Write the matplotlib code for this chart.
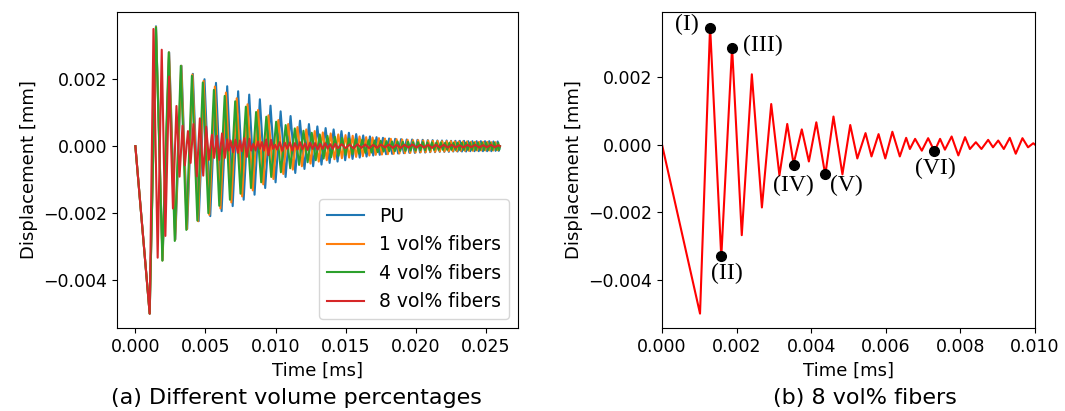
import numpy as np
import matplotlib
matplotlib.use("Agg")
import matplotlib.pyplot as plt

# all runs start at rest and dip to the same minimum
start_t = [0.0, 0.00102]
start_v = [0.0, -0.00500]

# PU: times of the maxima, value of each maximum and of the minimum after it
pu_peak_t = [0.00147, 0.00241, 0.00329, 0.00410, 0.00493, 0.00575, 0.00655, 0.00733, 0.00812, 0.00888,
             0.00964, 0.01036, 0.01107, 0.01174, 0.01238, 0.01298, 0.01357, 0.01414, 0.01470, 0.01523,
             0.01575, 0.01625, 0.01673, 0.01720, 0.01766, 0.01810, 0.01853, 0.01895, 0.01935, 0.01974,
             0.02012, 0.02049, 0.02085, 0.02120, 0.02154, 0.02187, 0.02220, 0.02252, 0.02283, 0.02314,
             0.02344, 0.02374, 0.02404, 0.02434, 0.02464, 0.02494, 0.02524, 0.02554, 0.02584]
pu_peak_v = [0.00358, 0.00280, 0.00240, 0.00216, 0.00200, 0.00189, 0.00179, 0.00164, 0.00154, 0.00140,
             0.00121, 0.00104, 0.00090, 0.00076, 0.00066, 0.00059, 0.00054, 0.00050, 0.00045, 0.00040,
             0.00036, 0.00032, 0.00029, 0.00027, 0.00025, 0.00023, 0.00022, 0.00021, 0.00020, 0.00020,
             0.00019, 0.00019, 0.00018, 0.00018, 0.00017, 0.00017, 0.00017, 0.00016, 0.00016, 0.00016,
             0.00016, 0.00015, 0.00015, 0.00015, 0.00015, 0.00015, 0.00015, 0.00014, 0.00014]
pu_trough_v = [-0.00340, -0.00278, -0.00247, -0.00224, -0.00209, -0.00194, -0.00179, -0.00160, -0.00145, -0.00125,
               -0.00108, -0.00092, -0.00080, -0.00068, -0.00060, -0.00055, -0.00050, -0.00046, -0.00042, -0.00038,
               -0.00034, -0.00031, -0.00028, -0.00026, -0.00024, -0.00023, -0.00022, -0.00021, -0.00020, -0.00020,
               -0.00019, -0.00019, -0.00018, -0.00018, -0.00017, -0.00017, -0.00017, -0.00016, -0.00016, -0.00016,
               -0.00016, -0.00015, -0.00015, -0.00015, -0.00015, -0.00015, -0.00015, -0.00014, -0.00014]

# 1 vol% fibers
f1_peak_t = [0.00147, 0.00240, 0.00327, 0.00407, 0.00487, 0.00567, 0.00646, 0.00723, 0.00800, 0.00875,
             0.00949, 0.01020, 0.01090, 0.01156, 0.01219, 0.01279, 0.01337, 0.01393, 0.01447, 0.01499,
             0.01550, 0.01599, 0.01646, 0.01692, 0.01737, 0.01780, 0.01822, 0.01863, 0.01903, 0.01942,
             0.01980, 0.02017, 0.02053, 0.02088, 0.02122, 0.02155, 0.02188, 0.02220, 0.02250, 0.02277,
             0.02306, 0.02335, 0.02364, 0.02393, 0.02422, 0.02451, 0.02480, 0.02509, 0.02538, 0.02567]
f1_peak_v = [0.00356, 0.00280, 0.00240, 0.00214, 0.00195, 0.00178, 0.00160, 0.00143, 0.00125, 0.00108,
             0.00092, 0.00078, 0.00066, 0.00057, 0.00050, 0.00045, 0.00041, 0.00038, 0.00035, 0.00033,
             0.00031, 0.00029, 0.00027, 0.00026, 0.00024, 0.00023, 0.00022, 0.00021, 0.00020, 0.00019,
             0.00018, 0.00018, 0.00017, 0.00017, 0.00016, 0.00016, 0.00015, 0.00015, 0.00015, 0.00014,
             0.00014, 0.00014, 0.00014, 0.00013, 0.00013, 0.00013, 0.00013, 0.00013, 0.00012, 0.00012]
f1_trough_v = [-0.00341, -0.00280, -0.00248, -0.00224, -0.00205, -0.00186, -0.00168, -0.00150, -0.00132, -0.00114,
               -0.00098, -0.00083, -0.00070, -0.00060, -0.00052, -0.00046, -0.00042, -0.00039, -0.00036, -0.00034,
               -0.00032, -0.00030, -0.00028, -0.00026, -0.00025, -0.00024, -0.00023, -0.00022, -0.00021, -0.00020,
               -0.00019, -0.00018, -0.00018, -0.00017, -0.00017, -0.00016, -0.00016, -0.00015, -0.00015, -0.00015,
               -0.00014, -0.00014, -0.00014, -0.00014, -0.00013, -0.00013, -0.00013, -0.00013, -0.00013, -0.00012]

# 4 vol% fibers
f4_peak_t = [0.00147, 0.00238, 0.00324, 0.00403, 0.00481, 0.00560, 0.00637, 0.00712, 0.00788, 0.00861,
             0.00934, 0.01004, 0.01072, 0.01137, 0.01199, 0.01258, 0.01315, 0.01370, 0.01423, 0.01474,
             0.01524, 0.01572, 0.01618, 0.01663, 0.01707, 0.01750, 0.01791, 0.01831, 0.01870, 0.01908,
             0.01945, 0.01981, 0.02016, 0.02050, 0.02083, 0.02115, 0.02147, 0.02178, 0.02209, 0.02239,
             0.02269, 0.02299, 0.02328, 0.02357, 0.02386, 0.02415, 0.02444, 0.02473, 0.02502, 0.02531,
             0.02560, 0.02589]
f4_peak_v = [0.00355, 0.00280, 0.00240, 0.00210, 0.00190, 0.00168, 0.00150, 0.00134, 0.00118, 0.00102,
             0.00088, 0.00073, 0.00063, 0.00053, 0.00046, 0.00040, 0.00035, 0.00031, 0.00028, 0.00025,
             0.00023, 0.00021, 0.00019, 0.00018, 0.00017, 0.00016, 0.00015, 0.00014, 0.00014, 0.00013,
             0.00013, 0.00012, 0.00012, 0.00012, 0.00011, 0.00011, 0.00011, 0.00011, 0.00010, 0.00010,
             0.00010, 0.00010, 0.00010, 0.00010, 0.00010, 0.00010, 0.00010, 0.00010, 0.00010, 0.00010,
             0.00010, 0.00010]
f4_trough_v = [-0.00342, -0.00283, -0.00250, -0.00222, -0.00200, -0.00178, -0.00160, -0.00142, -0.00125, -0.00108,
               -0.00092, -0.00078, -0.00066, -0.00056, -0.00048, -0.00042, -0.00037, -0.00033, -0.00029, -0.00026,
               -0.00024, -0.00022, -0.00020, -0.00019, -0.00018, -0.00016, -0.00015, -0.00015, -0.00014, -0.00014,
               -0.00013, -0.00013, -0.00012, -0.00012, -0.00012, -0.00011, -0.00011, -0.00011, -0.00011, -0.00011,
               -0.00011, -0.00011, -0.00011, -0.00011, -0.00011, -0.00011, -0.00011, -0.00011, -0.00011, -0.00011,
               -0.00011, -0.00011]

# 8 vol% fibers: successive extrema (same run in both panels)
f8_t = [0.00129, 0.00159, 0.00188, 0.00214, 0.00241, 0.00268, 0.00293, 0.00315,
        0.00336, 0.00353, 0.00375, 0.00394, 0.00414, 0.00438, 0.00460, 0.00484,
        0.00505, 0.00524, 0.00546, 0.00562, 0.00581, 0.00599, 0.00618, 0.00638,
        0.00655, 0.00665, 0.00679, 0.00697, 0.00714, 0.00731, 0.00746, 0.00759,
        0.00777, 0.00795, 0.00813, 0.00826, 0.00842, 0.00857, 0.00875, 0.00888,
        0.00902, 0.00917, 0.00933, 0.00949, 0.00967, 0.00982, 0.00996,
        0.01012, 0.01030, 0.01048, 0.01066, 0.01084, 0.01102, 0.01120, 0.01138, 0.01156, 0.01174,
        0.01192, 0.01210, 0.01228, 0.01246, 0.01264, 0.01282, 0.01300, 0.01318, 0.01336, 0.01354,
        0.01372, 0.01390, 0.01408, 0.01426, 0.01444,
        0.01472, 0.01500, 0.01528, 0.01556, 0.01584, 0.01612, 0.01640, 0.01668, 0.01696, 0.01724,
        0.01752, 0.01780, 0.01808, 0.01836, 0.01864, 0.01892, 0.01920, 0.01948, 0.01976, 0.02004,
        0.02032, 0.02060, 0.02088, 0.02116, 0.02144, 0.02172, 0.02200, 0.02228, 0.02256, 0.02284,
        0.02312, 0.02340, 0.02368, 0.02396, 0.02424, 0.02452, 0.02480, 0.02508, 0.02536, 0.02564,
        0.02592, 0.02600]
f8_v = [0.00350, -0.00333, 0.00288, -0.00268, 0.00208, -0.00186, 0.00120, -0.00091,
        0.00061, -0.00057, 0.00045, -0.00050, 0.00066, -0.00090, 0.00083, -0.00088,
        0.00058, -0.00041, 0.00034, -0.00035, 0.00031, -0.00041, 0.00038, -0.00035,
        0.00020, -0.00013, 0.00017, -0.00018, 0.00019, -0.00020, 0.00017, -0.00015,
        0.00024, -0.00032, 0.00022, -0.00013, 0.00007, -0.00013, 0.00014, -0.00008,
        0.00012, -0.00013, 0.00020, -0.00027, 0.00019, -0.00008, 0.00004,
        -0.00010, 0.00012, -0.00014, 0.00010, -0.00008, 0.00011, -0.00013, 0.00009, -0.00010, 0.00012,
        -0.00009, 0.00008, -0.00011, 0.00010, -0.00008, 0.00009, -0.00010, 0.00007, -0.00008, 0.00009,
        -0.00007, 0.00006, -0.00008, 0.00007, -0.00006,
        0.00006, -0.00006, 0.00005, -0.00007, 0.00006, -0.00005, 0.00005, -0.00006, 0.00004, -0.00005,
        0.00005, -0.00004, 0.00005, -0.00005, 0.00004, -0.00005, 0.00004, -0.00004, 0.00005, -0.00004,
        0.00004, -0.00004, 0.00004, -0.00005, 0.00004, -0.00004, 0.00004, -0.00004, 0.00004, -0.00004,
        0.00003, -0.00004, 0.00004, -0.00003, 0.00004, -0.00004, 0.00003, -0.00003, 0.00004, -0.00003,
        0.00003, 0.0]

# marked states in panel (b)
mark_t = [0.00129, 0.00159, 0.00188, 0.00353, 0.00438, 0.00731]
mark_v = [0.00346, -0.00331, 0.00286, -0.00059, -0.00088, -0.00020]
mark_labels = ["(I)", "(II)", "(III)", "(IV)", "(V)", "(VI)"]

t_end = 0.026


def zigzag(peak_t, peak_v, trough_v):
    # join maxima and the minima between them into one curve
    t = list(start_t)
    v = list(start_v)
    for i in range(len(peak_t)):
        nxt = peak_t[i + 1] if i + 1 < len(peak_t) else t_end
        t += [peak_t[i], (peak_t[i] + nxt) / 2]
        v += [peak_v[i], trough_v[i]]
    t.append(t_end)
    v.append(0.0)
    return t, v


fig = plt.figure(figsize=(10.65, 4.11), dpi=100)
ax1 = fig.add_axes([0.110, 0.202, 0.3765, 0.769])
ax2 = fig.add_axes([0.6216, 0.202, 0.350, 0.769])

series = [(pu_peak_t, pu_peak_v, pu_trough_v, "PU"),
          (f1_peak_t, f1_peak_v, f1_trough_v, "1 vol% fibers"),
          (f4_peak_t, f4_peak_v, f4_trough_v, "4 vol% fibers")]
for pt, pv, tv, lab in series:
    t, v = zigzag(pt, pv, tv)
    ax1.plot(t, v, lw=1.5, label=lab)
ax1.plot(start_t + f8_t, start_v + f8_v, lw=1.5, label="8 vol% fibers")

ax1.set_xticks([0.0, 0.005, 0.010, 0.015, 0.020, 0.025])
ax1.set_yticks([-0.004, -0.002, 0.0, 0.002])
ax1.set_xlabel("Time [ms]", fontsize=13)
ax1.set_ylabel("Displacement [mm]", fontsize=13)
ax1.tick_params(labelsize=12.5)
ax1.legend(loc="lower right", fontsize=13.5)

ax2.plot(start_t + f8_t, start_v + f8_v, color="red", lw=1.5)
ax2.plot(mark_t, mark_v, "o", color="black", ms=7)
offsets = [(-17, 2), (4, -12), (22, 2), (0, -15), (15, -8), (1, -12)]
for t, v, lab, off in zip(mark_t, mark_v, mark_labels, offsets):
    ax2.annotate(lab, (t, v), xytext=off, textcoords="offset points",
                 ha="center", va="center", fontsize=17, family="Liberation Serif")
ax2.set_xlim(0, 0.010)
ax2.set_xticks([0.0, 0.002, 0.004, 0.006, 0.008, 0.010])
ax2.set_yticks([-0.004, -0.002, 0.0, 0.002])
ax2.set_xlabel("Time [ms]", fontsize=13)
ax2.set_ylabel("Displacement [mm]", fontsize=13)
ax2.tick_params(labelsize=12.5)

for ax in (ax1, ax2):
    ax.ticklabel_format(useOffset=False, style="plain")

fig.text(296 / 1065, 1 - 398 / 411, "(a) Different volume percentages", ha="center", va="center", fontsize=16)
fig.text(865 / 1065, 1 - 398 / 411, "(b) 8 vol% fibers", ha="center", va="center", fontsize=16)

fig.savefig("out.png", dpi=100)
